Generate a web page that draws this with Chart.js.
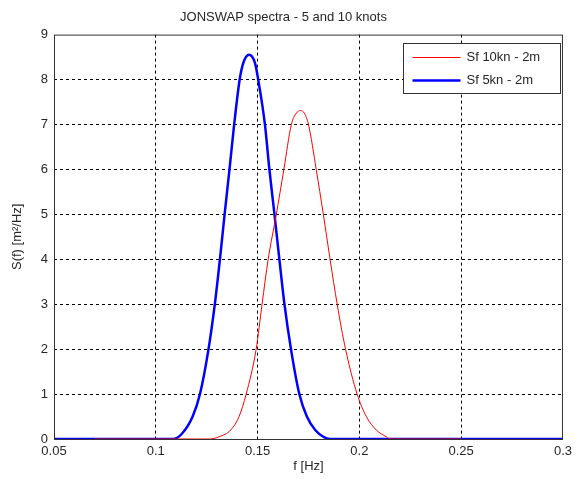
<!DOCTYPE html>
<html lang="en">
<head>
  <meta charset="UTF-8" />
  <title>JONSWAP spectra</title>
  <script src="https://cdn.jsdelivr.net/npm/chart.js"></script>
  <style>
    html, body { margin: 0; padding: 0; background: #fff; }
    #wrap { width: 577px; height: 483px; }
  </style>
</head>
<body>
  <div id="wrap"><canvas id="spec"></canvas></div>

  <script>
    // Values
    const freq5kn = [0.05, 0.10, 0.1084, 0.1125, 0.1181, 0.1217, 0.1259, 0.129, 0.1315, 0.1338, 0.1362, 0.1385, 0.1412, 0.143, 0.1458, 0.1487, 0.1503, 0.1536, 0.1558, 0.1583, 0.1607, 0.1632, 0.1664, 0.1705, 0.1742, 0.1783, 0.1823, 0.1856, 0.19, 0.30];
    const spec5kn = [0,    0,    0,      0.1,    0.5,    1.0,    2.0,    3.0,   4.0,    5.0,    6.0,    7.0,    8.0,    8.37,  8.55,   8.37,   8.0,    7.0,    6.0,    5.0,    4.0,    3.0,    2.0,    1.0,    0.5,    0.2,    0.05,   0,      0,    0];

    const freq10kn = [0.07, 0.12, 0.1263, 0.1311, 0.1368, 0.1409, 0.1444, 0.1493, 0.1522, 0.1552, 0.1592, 0.1629, 0.1666, 0.169, 0.171, 0.173, 0.175, 0.1788, 0.1823, 0.1856, 0.1891, 0.1932, 0.1989, 0.2034, 0.2083, 0.2132, 0.2154, 0.22, 0.25];
    const spec10kn = [0,    0,    0,      0.05,   0.2,    0.5,    1.0,    2.0,    3.0,    4.0,    5.0,    6.0,    7.0,    7.25,  7.31,  7.25,  7.0,   6.0,    5.0,    4.0,    3.0,    2.0,    1.0,    0.5,    0.2,    0.05,   0,      0,    0];

    const xTickLabels = ['0.05', '0.1', '0.15', '0.2', '0.25', '0.3'];
    const yTickLabels = ['0', '1', '2', '3', '4', '5', '6', '7', '8', '9'];

    const seriesNames = ['Sf 10kn - 2m', 'Sf 5kn - 2m'];
    const seriesColors = ['#ff0000', '#0000ff'];
    const seriesWidths = [1, 2.5];

    const font = { family: 'Liberation Sans, Arial, sans-serif', size: 13 };
    const textColor = '#262626';

    const toPoints = (xs, ys) => xs.map((x, i) => ({ x: x, y: ys[i] }));

    // Box around the plot and legend inside the top-right corner
    const boxAndLegend = {
      id: 'boxAndLegend',
      afterDraw(chart) {
        const { ctx, chartArea: a } = chart;
        ctx.save();
        ctx.strokeStyle = '#333';
        ctx.lineWidth = 1;
        ctx.setLineDash([]);
        ctx.strokeRect(a.left + 0.5, a.top + 0.5, a.right - a.left - 1, a.bottom - a.top);

        const lx = 403.5, ly = 43.5, lw = 157, lh = 50;
        ctx.fillStyle = '#fff';
        ctx.fillRect(lx, ly, lw, lh);
        ctx.strokeStyle = '#333';
        ctx.strokeRect(lx, ly, lw, lh);
        ctx.font = font.size + 'px ' + font.family;
        ctx.textBaseline = 'middle';
        seriesNames.forEach((name, i) => {
          const y = ly + 14 + i * 23;
          ctx.strokeStyle = seriesColors[i];
          ctx.lineWidth = seriesWidths[i];
          ctx.beginPath();
          ctx.moveTo(lx + 9, y);
          ctx.lineTo(lx + 57, y);
          ctx.stroke();
          ctx.fillStyle = textColor;
          ctx.fillText(name, lx + 63, y);
        });
        ctx.restore();
      }
    };

    new Chart(document.getElementById('spec'), {
      type: 'scatter',
      data: {
        datasets: [
          {
            label: seriesNames[0],
            data: toPoints(freq10kn, spec10kn),
            showLine: true,
            borderColor: seriesColors[0],
            borderWidth: seriesWidths[0],
            pointRadius: 0,
            cubicInterpolationMode: 'monotone'
          },
          {
            label: seriesNames[1],
            data: toPoints(freq5kn, spec5kn),
            showLine: true,
            borderColor: seriesColors[1],
            borderWidth: seriesWidths[1],
            pointRadius: 0,
            cubicInterpolationMode: 'monotone'
          }
        ]
      },
      options: {
        responsive: true,
        maintainAspectRatio: false,
        animation: false,
        layout: { padding: { left: 0, right: 10, top: 0, bottom: 0 } },
        plugins: {
          legend: { display: false },
          tooltip: { enabled: false },
          title: {
            display: true,
            text: 'JONSWAP spectra - 5 and 10 knots',
            color: textColor,
            font: { family: font.family, size: 13, weight: 'normal' },
            padding: { top: 10, bottom: 9 }
          }
        },
        scales: {
          x: {
            type: 'linear',
            min: 0.05,
            max: 0.3,
            afterFit: s => { s.height = 44; },
            ticks: {
              stepSize: 0.05,
              color: textColor,
              font: font,
              padding: 5,
              maxRotation: 0,
              callback: (v, i) => xTickLabels[i]
            },
            grid: {
              color: c => (c.index === 0 || c.index === xTickLabels.length - 1) ? 'rgba(0,0,0,0)' : '#000',
              drawTicks: false,
              lineWidth: 1
            },
            border: { display: false, dash: [3, 3] },
            title: {
              display: true,
              text: 'f [Hz]',
              color: textColor,
              font: font,
              padding: { top: 0, bottom: 9 }
            }
          },
          y: {
            min: 0,
            max: 9,
            afterFit: s => { s.width = 54; },
            ticks: {
              stepSize: 1,
              color: textColor,
              font: font,
              padding: 6,
              callback: (v, i) => yTickLabels[i]
            },
            grid: {
              color: c => (c.index === 0 || c.index === yTickLabels.length - 1) ? 'rgba(0,0,0,0)' : '#000',
              drawTicks: false,
              lineWidth: 1
            },
            border: { display: false, dash: [3, 3] },
            title: {
              display: true,
              text: 'S(f) [m\u00B2/Hz]',
              color: textColor,
              font: font,
              padding: { top: 10, bottom: 0 }
            }
          }
        }
      },
      plugins: [boxAndLegend]
    });
  </script>
</body>
</html>
